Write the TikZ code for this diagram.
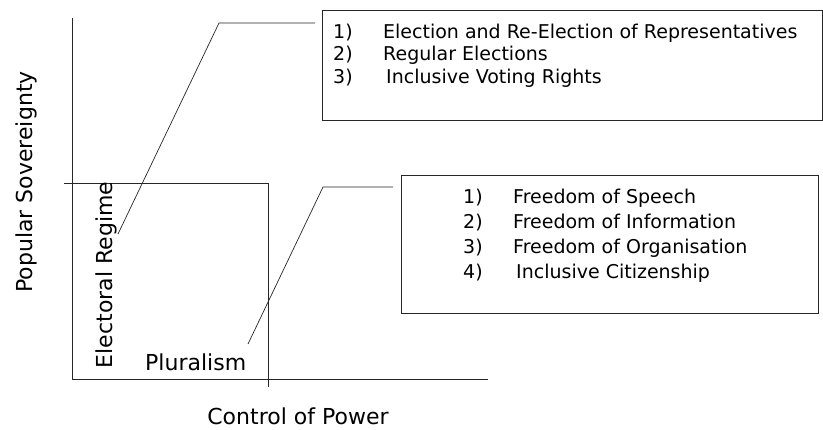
\documentclass[tikz,border=0pt]{standalone}
\usepackage{fontspec}
\setmainfont{DejaVu Sans}
\begin{document}
\begin{tikzpicture}[x=1pt,y=-1pt,
  ln/.style={line width=0.9pt, draw=black!85},
  lbl/.style={font=\fontsize{19}{22}\selectfont, inner sep=0pt, anchor=base west},
  axlbl/.style={font=\fontsize{22}{26}\selectfont, inner sep=0pt, anchor=base},
  listbox/.style={ln, rectangle, inner sep=0pt, anchor=north west}]
\useasboundingbox (0,0) rectangle (823,429);
% axes
\coordinate (ytop) at (72,18);
\coordinate (orig) at (72,379);
\coordinate (xend) at (488,379);
\draw[ln] (ytop) -- (orig) -- (xend);
% inner rectangle
\coordinate (rtl) at (64,183);
\coordinate (rbr) at (268,387);
\draw[ln] (rtl) -| (rbr);
% boxes
\node[listbox, minimum width=500pt, minimum height=110pt] (box1) at (322,10) {};
\node[listbox, minimum width=417pt, minimum height=138pt] (box2) at (401,175) {};
% list texts
\node[lbl] (a1n) at (333,38) {1)};
\node[lbl] (a1t) at (383,38) {Election and Re-Election of Representatives};
\node[lbl] (a2n) at (333,60.5) {2)};
\node[lbl] (a2t) at (383,60.5) {Regular Elections};
\node[lbl] (a3n) at (333,83) {3)};
\node[lbl] (a3t) at (386,83) {Inclusive Voting Rights};
\node[lbl] (b1n) at (463,203) {1)};
\node[lbl] (b1t) at (513,203) {Freedom of Speech};
\node[lbl] (b2n) at (463,228) {2)};
\node[lbl] (b2t) at (513,228) {Freedom of Information};
\node[lbl] (b3n) at (463,253) {3)};
\node[lbl] (b3t) at (513,253) {Freedom of Organisation};
\node[lbl] (b4n) at (463,278) {4)};
\node[lbl] (b4t) at (516,278) {Inclusive Citizenship};
% labels
\node[axlbl, rotate=90] (ps) at (32,182) {Popular Sovereignty};
\node[axlbl, rotate=90] (er) at (112,275) {Electoral Regime};
\node[axlbl, anchor=base west] (pl) at (145,370) {Pluralism};
\node[axlbl] (cp) at (298,424) {Control of Power};
% callouts
\coordinate (c1a) at (315,23);
\coordinate (c1b) at (219,23);
\coordinate (c1c) at (118,234);
\draw[ln, line width=0.7pt] (c1a) -- (c1b) -- (c1c);
\coordinate (c2a) at (393,187);
\coordinate (c2b) at (323,187);
\coordinate (c2c) at (248,344);
\draw[ln, line width=0.7pt] (c2a) -- (c2b) -- (c2c);
\end{tikzpicture}
\end{document}
